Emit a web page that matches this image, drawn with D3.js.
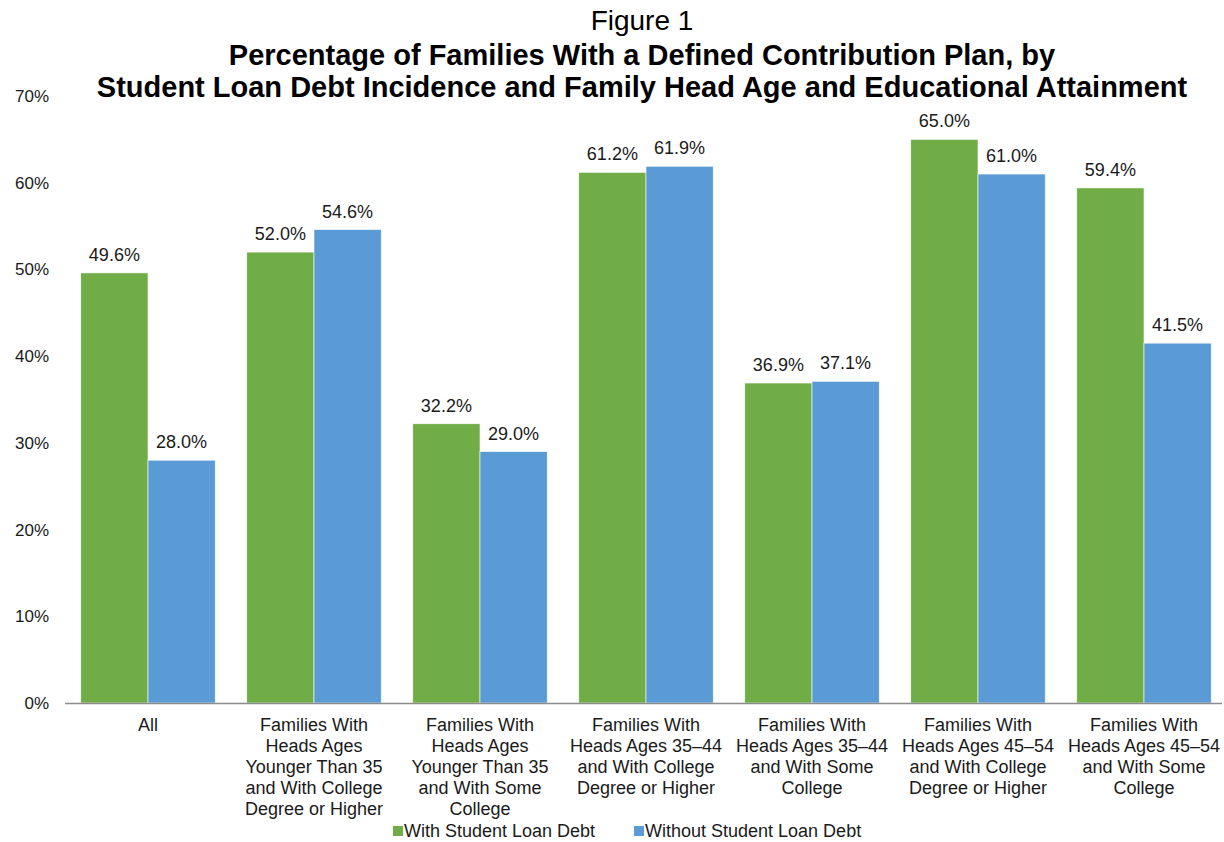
<!DOCTYPE html>
<html>
<head>
<meta charset="utf-8">
<script src="https://cdn.jsdelivr.net/npm/d3@7"></script>
<style>
  body { margin: 0; background: #fff; }
  svg { font-family: "Liberation Sans", Arial, sans-serif; }
</style>
</head>
<body>
<svg class="chart" width="1224" height="842"></svg>
<script>
const categories = [
  ['All'],
  ['Families With', 'Heads Ages', 'Younger Than 35', 'and With College', 'Degree or Higher'],
  ['Families With', 'Heads Ages', 'Younger Than 35', 'and With Some', 'College'],
  ['Families With', 'Heads Ages 35\u201344', 'and With College', 'Degree or Higher'],
  ['Families With', 'Heads Ages 35\u201344', 'and With Some', 'College'],
  ['Families With', 'Heads Ages 45\u201354', 'and With College', 'Degree or Higher'],
  ['Families With', 'Heads Ages 45\u201354', 'and With Some', 'College']
]
const seriesNames = ['With Student Loan Debt', 'Without Student Loan Debt']
const withDebt = [49.6, 52.0, 32.2, 61.2, 36.9, 65.0, 59.4]
const withoutDebt = [28.0, 54.6, 29.0, 61.9, 37.1, 61.0, 41.5]
const yTicks = [0, 10, 20, 30, 40, 50, 60, 70]
const colors = ['#70AD47', '#5B9BD5']

const svg = d3.select('.chart')

const plotLeft = 65, plotRight = 1227, plotTop = 96, plotBottom = 703

const x = d3.scaleBand()
  .domain(d3.range(categories.length))
  .range([plotLeft, plotRight])
  .paddingInner(0.19)
  .paddingOuter(0.095)

const xs = d3.scaleBand()
  .domain([0, 1])
  .range([0, x.bandwidth()])

const y = d3.scaleLinear()
  .domain([0, 70])
  .range([plotBottom, plotTop])

// title
const title = svg.append('g').attr('text-anchor', 'middle')
title.append('text')
  .attr('x', 642).attr('y', 30)
  .attr('font-size', 28)
  .text('Figure 1')
title.append('text')
  .attr('x', 642).attr('y', 65)
  .attr('font-size', 29).attr('font-weight', 'bold')
  .text('Percentage of Families With a Defined Contribution Plan, by')
title.append('text')
  .attr('x', 642).attr('y', 97)
  .attr('font-size', 29).attr('font-weight', 'bold')
  .text('Student Loan Debt Incidence and Family Head Age and Educational Attainment')

// y axis labels
svg.append('g')
  .selectAll('text')
  .data(yTicks)
  .join('text')
  .attr('x', 49)
  .attr('y', d => y(d) + 6)
  .attr('text-anchor', 'end')
  .attr('font-size', 17)
  .attr('fill', '#1a1a1a')
  .text(d => d + '%')

// bars
const series = [withDebt, withoutDebt]
series.forEach((vals, si) => {
  svg.append('g')
    .selectAll('rect')
    .data(vals)
    .join('rect')
    .attr('x', (d, i) => x(i) + xs(si))
    .attr('y', d => y(d))
    .attr('width', xs.bandwidth())
    .attr('height', d => y(0) - y(d))
    .attr('fill', colors[si])
    .attr('stroke', '#fff')
    .attr('stroke-width', 0.6)

  svg.append('g')
    .selectAll('text')
    .data(vals)
    .join('text')
    .attr('x', (d, i) => x(i) + xs(si) + xs.bandwidth() / 2)
    .attr('y', d => y(d) - 12)
    .attr('text-anchor', 'middle')
    .attr('font-size', 18)
    .attr('fill', '#1a1a1a')
    .text(d => d.toFixed(1) + '%')
})

// x axis line
svg.append('line')
  .attr('x1', plotLeft).attr('x2', 1222)
  .attr('y1', y(0) + 0.5).attr('y2', y(0) + 0.5)
  .attr('stroke', '#8c8c8c')
  .attr('stroke-width', 1.5)

// category labels
const catG = svg.append('g')
  .selectAll('text')
  .data(categories)
  .join('text')
  .attr('text-anchor', 'middle')
  .attr('font-size', 18)
  .attr('fill', '#1a1a1a')
catG.selectAll('tspan')
  .data((d, i) => d.map(line => ({ line, i })))
  .join('tspan')
  .attr('x', d => x(d.i) + x.bandwidth() / 2)
  .attr('y', (d, j) => 731 + j * 21)
  .text(d => d.line)

// legend
const legendPos = [393, 634]
const legend = svg.append('g')
  .selectAll('g')
  .data(seriesNames)
  .join('g')
  .attr('transform', (d, i) => `translate(${legendPos[i]},837)`)
legend.append('rect')
  .attr('x', 0).attr('y', -11)
  .attr('width', 10).attr('height', 10)
  .attr('fill', (d, i) => colors[i])
legend.append('text')
  .attr('x', 11).attr('y', 0)
  .attr('font-size', 18)
  .attr('fill', '#1a1a1a')
  .text(d => d)
</script>
</body>
</html>
